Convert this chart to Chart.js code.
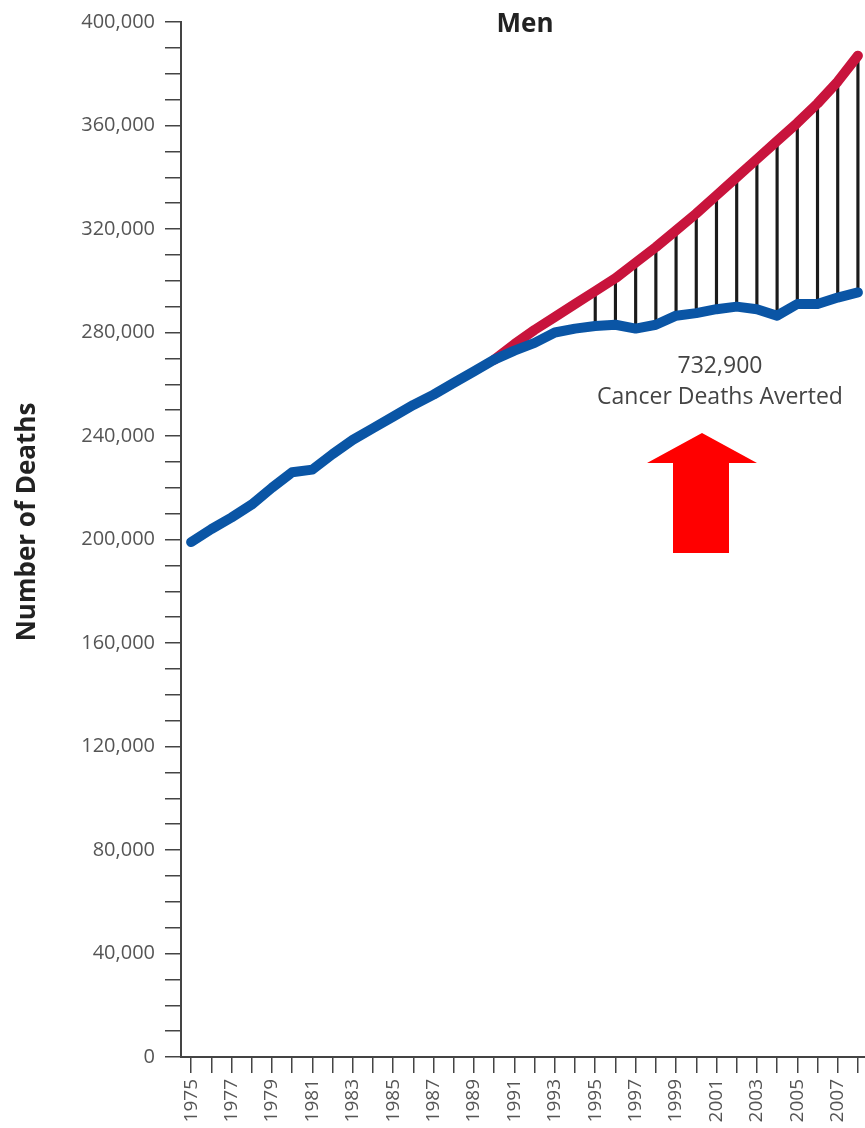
<!DOCTYPE html>
<html>
<head>
<meta charset="utf-8">
<script src="https://cdn.jsdelivr.net/npm/chart.js@4.4.1/dist/chart.umd.min.js"></script>
<style>
  body { margin: 0; background: #fff; }
  #wrap { width: 865px; height: 1128px; }
</style>
</head>
<body>
<div id="wrap"><canvas id="menChart"></canvas></div>
<script>
// values (men, US cancer deaths)
var years = [1975, 1976, 1977, 1978, 1979, 1980, 1981, 1982, 1983, 1984, 1985, 1986,
  1987, 1988, 1989, 1990, 1991, 1992, 1993, 1994, 1995, 1996, 1997, 1998, 1999,
  2000, 2001, 2002, 2003, 2004, 2005, 2006, 2007, 2008];
var actualDeaths = [199000, 204000, 208500, 213500, 220000, 226000, 227000, 233000,
  238500, 243000, 247500, 252000, 256000, 260500, 265000, 269500, 273000, 276000,
  280000, 281500, 282500, 283000, 281500, 283000, 286500, 287500, 289000, 290000,
  289000, 286500, 291000, 291000, 293500, 295500];
var expectedDeaths = [null, null, null, null, null, null, null, null, null, null, null,
  null, null, null, null, 269500, 275500, 281000, 286000, 291000, 296000, 301000,
  307000, 313000, 319500, 326000, 333000, 340000, 347000, 354000, 361000, 368500,
  377000, 387000];
var avertedFromYear = 1995;
var avertedLabel = ["732,900", "Cancer Deaths Averted"];
var yTickStep = 10000;
var yLabelStep = 40000;

var font = '"Open Sans", sans-serif';
var tickColor = "#444";
var labelColor = "#555";

var actualPoints = years.map(function (yr, i) { return { x: yr, y: actualDeaths[i] }; });
var expectedPoints = years.map(function (yr, i) { return { x: yr, y: expectedDeaths[i] }; });
var avertedBars = [];
years.forEach(function (yr, i) {
  if (yr >= avertedFromYear && expectedDeaths[i] !== null) {
    avertedBars.push({ x: yr, y: [actualDeaths[i], expectedDeaths[i]] });
  }
});

// titles, arrow and the averted note
var extras = {
  id: "extras",
  afterDatasetsDraw: function (chart) {
    var ctx = chart.ctx;
    ctx.save();

    // red arrow
    ctx.fillStyle = "#ff0000";
    ctx.beginPath();
    ctx.moveTo(702, 433);
    ctx.lineTo(757, 463);
    ctx.lineTo(729, 463);
    ctx.lineTo(729, 553);
    ctx.lineTo(673, 553);
    ctx.lineTo(673, 463);
    ctx.lineTo(647, 463);
    ctx.closePath();
    ctx.fill();

    ctx.textAlign = "center";
    ctx.textBaseline = "middle";
    ctx.fillStyle = "#444";
    ctx.font = "23px " + font;
    ctx.fillText(avertedLabel[0], 720, 366);
    ctx.fillText(avertedLabel[1], 720, 397);

    ctx.fillStyle = "#222";
    ctx.font = "bold 26px " + font;
    ctx.fillText("Men", 525, 25);

    ctx.translate(28, 522);
    ctx.rotate(-Math.PI / 2);
    ctx.fillText("Number of Deaths", 0, 0);
    ctx.restore();
  }
};

new Chart(document.getElementById("menChart"), {
  type: "line",
  data: {
    datasets: [{
      label: "Actual",
      data: actualPoints,
      borderColor: "#0a55a5",
      borderWidth: 10,
      borderCapStyle: "round",
      borderJoinStyle: "round",
      pointRadius: 0,
      tension: 0,
      order: 1,
    }, {
      label: "Expected",
      data: expectedPoints,
      borderColor: "#c8143c",
      borderWidth: 10,
      borderCapStyle: "round",
      borderJoinStyle: "round",
      pointRadius: 0,
      tension: 0,
      order: 2,
    }, {
      type: "bar",
      label: "Averted",
      data: avertedBars,
      backgroundColor: "#1a1a1a",
      barThickness: 2.5,
      grouped: false,
      order: 3,
    }],
  },
  options: {
    responsive: true,
    maintainAspectRatio: false,
    animation: false,
    layout: { padding: { top: 20, left: 0, right: 0, bottom: 0 } },
    plugins: {
      legend: { display: false },
      title: { display: false },
      tooltip: { enabled: false },
    },
    scales: {
      x: {
        type: "linear",
        min: 1974.5,
        max: 2008.35,
        offset: false,
        afterFit: function (scale) {
          scale.height = 71;
          scale.paddingLeft = 0;
          scale.paddingRight = 0;
        },
        grid: { offset: false, drawOnChartArea: false, drawTicks: true, tickLength: 16, color: tickColor, lineWidth: 1.5 },
        border: { color: tickColor, width: 2 },
        ticks: {
          stepSize: 1,
          includeBounds: false,
          autoSkip: false,
          minRotation: 90,
          maxRotation: 90,
          padding: 6,
          color: labelColor,
          font: { family: font, size: 19 },
          callback: function (v) { return v % 2 === 1 ? String(v) : ""; },
        },
      },
      y: {
        min: 0,
        max: 400000,
        afterFit: function (scale) { scale.width = 181; },
        grid: { drawOnChartArea: false, drawTicks: true, tickLength: 16, color: tickColor, lineWidth: 1.5 },
        border: { color: tickColor, width: 2 },
        ticks: {
          stepSize: yTickStep,
          autoSkip: false,
          padding: 10,
          color: labelColor,
          font: { family: font, size: 20 },
          callback: function (v) { return v % yLabelStep === 0 ? v.toLocaleString("en-US") : ""; },
        },
      },
    },
  },
  plugins: [extras],
});
</script>
</body>
</html>
